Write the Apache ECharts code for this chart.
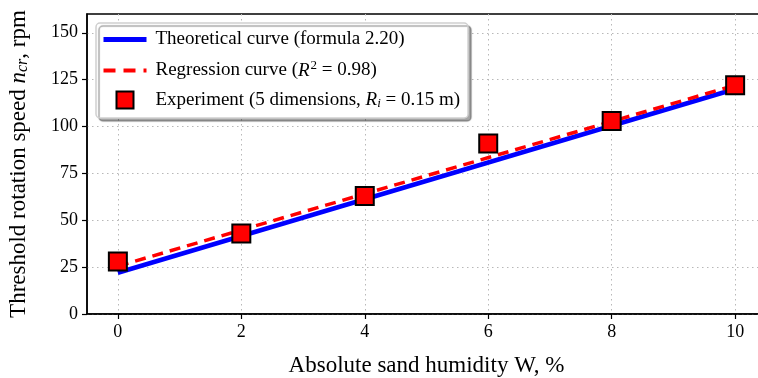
<!DOCTYPE html>
<html>
<head>
<meta charset="utf-8">
<script src="https://cdn.jsdelivr.net/npm/echarts@6/dist/echarts.min.js"></script>
<style>
  html, body { margin: 0; padding: 0; background: #fff; }
  #chart { width: 758px; height: 378px; }
</style>
</head>
<body>
<div id="chart"></div>
<script>
// data
var humidity = [0, 2, 4, 6, 8, 10];
var experiment = [28, 43, 63, 91, 103, 122];
var theoryX = [0, 10];
var theoryY = [22, 120];
var regressX = [0, 10];
var regressY = [25.5, 122];
var xTicks = [0, 2, 4, 6, 8, 10];
var yTicks = [0, 25, 50, 75, 100, 125, 150];

var font = 'Liberation Serif';

function pairs(xs, ys) {
    var out = [];
    for (var i = 0; i < xs.length; i++) out.push([xs[i], ys[i]]);
    return out;
}

var chart = echarts.init(document.getElementById('chart'));
chart.setOption({
    animation: false,
    textStyle: { fontFamily: font },
    grid: {
        left: 87, top: 14, width: 679, height: 300,
        outerBoundsMode: 'none', containLabel: false,
        show: true, borderColor: '#000', borderWidth: 1.5, backgroundColor: 'transparent'
    },
    legend: {
        left: 96, top: 23,
        orient: 'vertical',
        itemWidth: 43, itemHeight: 17, itemGap: 10.5,
        padding: [7, 8, 8, 5],
        backgroundColor: '#fff',
        borderColor: '#cfcfcf', borderWidth: 1.5, borderRadius: 4,
        shadowColor: 'rgba(0,0,0,0.35)', shadowOffsetX: 3, shadowOffsetY: 3, shadowBlur: 1,
        textStyle: {
            fontFamily: font, fontSize: 19, color: '#000', padding: [0, 0, 0, 4],
            rich: {
                it: { fontFamily: font, fontSize: 19, fontStyle: 'italic', color: '#000' },
                sup: { fontFamily: font, fontSize: 13, color: '#000', verticalAlign: 'top', padding: [0, 0, 9, 1] },
                sub: { fontFamily: font, fontSize: 13, fontStyle: 'italic', color: '#000', padding: [7, 0, 0, 0] }
            }
        },
        formatter: function (name) {
            if (name === 'reg') return 'Regression curve ({it|R}{sup|2} = 0.98)';
            if (name === 'exp') return 'Experiment (5 dimensions, {it|R}{sub|i} = 0.15 m)';
            return 'Theoretical curve (formula 2.20)';
        },
        data: [
            { name: 'theory', itemStyle: { opacity: 0 }, lineStyle: { width: 5 } },
            { name: 'reg', itemStyle: { opacity: 0 }, lineStyle: { width: 4, type: [12, 8] } },
            { name: 'exp', icon: 'path://M0,0H10V10H0Z' }
        ]
    },
    xAxis: {
        type: 'value', min: -0.5, max: 10.5,
        name: 'Absolute sand humidity W, %',
        nameLocation: 'middle', nameGap: 40,
        nameTextStyle: { fontFamily: font, fontSize: 23, color: '#000' },
        axisLine: { onZero: false, lineStyle: { color: '#000', width: 1.5 } },
        axisTick: { customValues: xTicks, length: 5, lineStyle: { color: '#000', width: 1.2 } },
        axisLabel: { customValues: xTicks, fontFamily: font, fontSize: 18, color: '#000', margin: 9 },
        splitLine: { show: true, lineStyle: { color: '#b8b8b8', type: [1.5, 3.5], width: 1 } }
    },
    yAxis: {
        type: 'value', min: 0, max: 160,
        name: '{n|Threshold rotation speed }{it|n}{sub|cr}{n|, rpm}',
        nameLocation: 'middle', nameGap: 56,
        nameTextStyle: {
            fontFamily: font, fontSize: 23, color: '#000',
            rich: {
                n: { fontFamily: font, fontSize: 23, color: '#000' },
                it: { fontFamily: font, fontSize: 23, fontStyle: 'italic', color: '#000' },
                sub: { fontFamily: font, fontSize: 16, fontStyle: 'italic', color: '#000', padding: [9, 0, 0, 0] }
            }
        },
        axisLine: { show: true, onZero: false, lineStyle: { color: '#000', width: 1.5 } },
        axisTick: { show: true, customValues: yTicks, length: 5, lineStyle: { color: '#000', width: 1.2 } },
        axisLabel: { customValues: yTicks, fontFamily: font, fontSize: 18, color: '#000', margin: 9 },
        splitLine: { show: true, lineStyle: { color: '#b8b8b8', type: [1.5, 3.5], width: 1 } }
    },
    series: [
        {
            name: 'theory', type: 'line', data: pairs(theoryX, theoryY),
            symbol: 'none', z: 2,
            lineStyle: { color: '#0000ff', width: 4.5 },
            itemStyle: { color: '#0000ff' }
        },
        {
            name: 'reg', type: 'line', data: pairs(regressX, regressY),
            symbol: 'none', z: 3,
            lineStyle: { color: '#ff0000', width: 3.5, type: [11, 7] },
            itemStyle: { color: '#ff0000' }
        },
        {
            name: 'exp', type: 'scatter', data: pairs(humidity, experiment),
            symbol: 'rect', symbolSize: 18, z: 4,
            itemStyle: { color: '#ff0000', borderColor: '#000', borderWidth: 2, opacity: 1 }
        }
    ]
});
</script>
</body>
</html>
